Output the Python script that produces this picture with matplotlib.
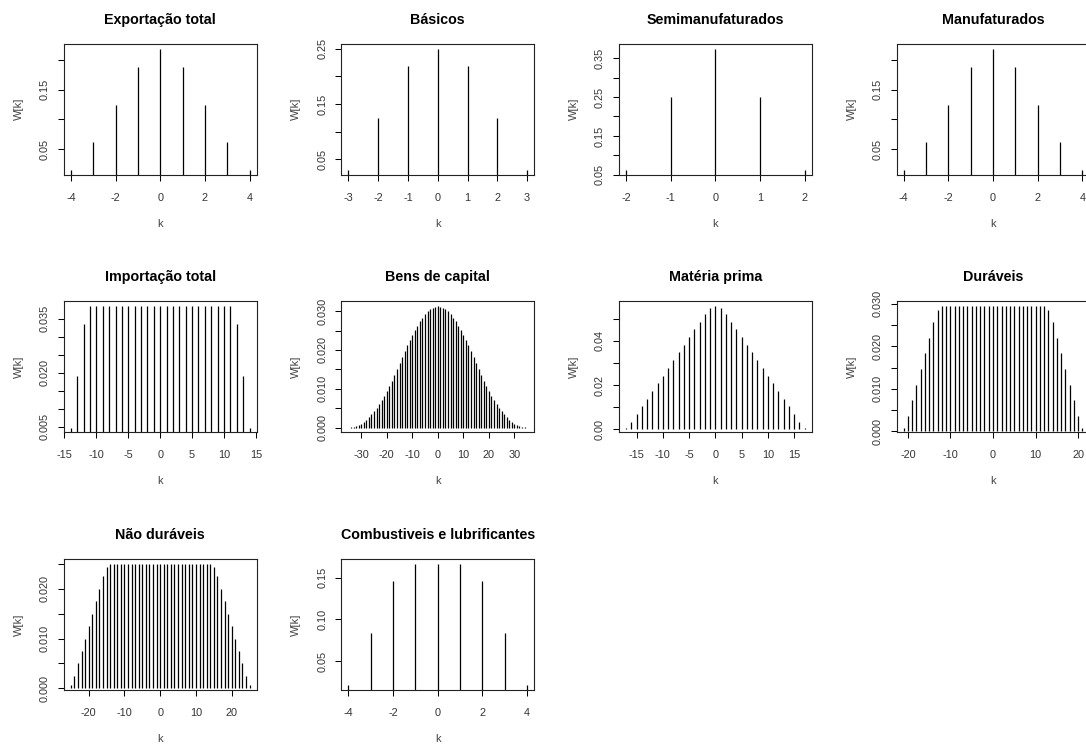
import numpy as np
import matplotlib.pyplot as plt

plt.rcParams['font.family'] = ['Liberation Sans', 'DejaVu Sans']

# pesos W[k] dos núcleos de suavização de cada série
k_exp = np.arange(-4, 5)
w_exp = [0.015625, 0.0625, 0.125, 0.1875, 0.21875, 0.1875, 0.125, 0.0625, 0.015625]

k_bas = np.arange(-3, 4)
w_bas = [0.03125, 0.125, 0.21875, 0.25, 0.21875, 0.125, 0.03125]

k_semi = np.arange(-2, 3)
w_semi = [0.0625, 0.25, 0.375, 0.25, 0.0625]

k_manuf = np.arange(-4, 5)
w_manuf = [0.015625, 0.0625, 0.125, 0.1875, 0.21875, 0.1875, 0.125, 0.0625, 0.015625]

k_imp = np.arange(-14, 15)
w_imp = [0.00481, 0.01923, 0.03365,
         0.03846, 0.03846, 0.03846, 0.03846, 0.03846, 0.03846, 0.03846, 0.03846,
         0.03846, 0.03846, 0.03846, 0.03846, 0.03846, 0.03846, 0.03846, 0.03846,
         0.03846, 0.03846, 0.03846, 0.03846, 0.03846, 0.03846, 0.03846,
         0.03365, 0.01923, 0.00481]

k_cap = np.arange(-35, 36)
w_cap = [0.000010, 0.000042, 0.000167, 0.000375, 0.000667, 0.001042, 0.001500,
         0.002042, 0.002667, 0.003375, 0.004167, 0.005042, 0.006000, 0.007042,
         0.008167, 0.009375, 0.010667, 0.012042, 0.013500, 0.015042, 0.016667,
         0.018292, 0.019833, 0.021292, 0.022667, 0.023958, 0.025167, 0.026292,
         0.027333, 0.028292, 0.029167, 0.029917, 0.030500, 0.030917, 0.031167,
         0.031250,
         0.031167, 0.030917, 0.030500, 0.029917, 0.029167, 0.028292, 0.027333,
         0.026292, 0.025167, 0.023958, 0.022667, 0.021292, 0.019833, 0.018292,
         0.016667, 0.015042, 0.013500, 0.012042, 0.010667, 0.009375, 0.008167,
         0.007042, 0.006000, 0.005042, 0.004167, 0.003375, 0.002667, 0.002042,
         0.001500, 0.001042, 0.000667, 0.000375, 0.000167, 0.000042, 0.000010]

k_mat = np.arange(-17, 18)
w_mat = [0.000868, 0.003472, 0.006944, 0.010417, 0.013889, 0.017361, 0.020833,
         0.024306, 0.027778, 0.031250, 0.034722, 0.038194, 0.041667, 0.045139,
         0.048611, 0.052083, 0.054688, 0.055556, 0.054688, 0.052083, 0.048611,
         0.045139, 0.041667, 0.038194, 0.034722, 0.031250, 0.027778, 0.024306,
         0.020833, 0.017361, 0.013889, 0.010417, 0.006944, 0.003472, 0.000868]

k_dur = np.arange(-21, 22)
w_dur = [0.000919, 0.003676, 0.007353, 0.011029, 0.014706, 0.018382, 0.022059,
         0.025735, 0.028493,
         0.029412, 0.029412, 0.029412, 0.029412, 0.029412, 0.029412, 0.029412,
         0.029412, 0.029412, 0.029412, 0.029412, 0.029412, 0.029412, 0.029412,
         0.029412, 0.029412, 0.029412, 0.029412, 0.029412, 0.029412, 0.029412,
         0.029412, 0.029412, 0.029412, 0.029412,
         0.028493, 0.025735, 0.022059, 0.018382, 0.014706, 0.011029, 0.007353,
         0.003676, 0.000919]

k_ndur = np.arange(-25, 26)
w_ndur = [0.000625, 0.0025, 0.005, 0.0075, 0.01, 0.0125, 0.015, 0.0175, 0.02,
          0.0225, 0.024375,
          0.025, 0.025, 0.025, 0.025, 0.025, 0.025, 0.025, 0.025, 0.025, 0.025,
          0.025, 0.025, 0.025, 0.025, 0.025, 0.025, 0.025, 0.025, 0.025, 0.025,
          0.025, 0.025, 0.025, 0.025, 0.025, 0.025, 0.025, 0.025, 0.025,
          0.024375, 0.0225, 0.02, 0.0175, 0.015, 0.0125, 0.01, 0.0075, 0.005,
          0.0025, 0.000625]

k_comb = np.arange(-4, 5)
w_comb = [0.020833, 0.083333, 0.145833, 0.166667, 0.166667, 0.166667,
          0.145833, 0.083333, 0.020833]

titles = ['Exportação total', 'Básicos', 'Semimanufaturados', 'Manufaturados',
          'Importação total', 'Bens de capital', 'Matéria prima', 'Duráveis',
          'Não duráveis', 'Combustiveis e lubrificantes']

# (k, W, marcas do eixo y, rótulos do eixo y, marcas do eixo x)
panels = [
    (k_exp, w_exp, [0.05, 0.10, 0.15, 0.20], ['0.05', '', '0.15', ''], [-4, -2, 0, 2, 4]),
    (k_bas, w_bas, [0.05, 0.10, 0.15, 0.20, 0.25], ['0.05', '', '0.15', '', '0.25'], [-3, -2, -1, 0, 1, 2, 3]),
    (k_semi, w_semi, [0.05, 0.10, 0.15, 0.20, 0.25, 0.30, 0.35],
     ['0.05', '', '0.15', '', '0.25', '', '0.35'], [-2, -1, 0, 1, 2]),
    (k_manuf, w_manuf, [0.05, 0.10, 0.15, 0.20], ['0.05', '', '0.15', ''], [-4, -2, 0, 2, 4]),
    (k_imp, w_imp, [0.005, 0.010, 0.015, 0.020, 0.025, 0.030, 0.035],
     ['0.005', '', '', '0.020', '', '', '0.035'], [-15, -10, -5, 0, 5, 10, 15]),
    (k_cap, w_cap, [0.0, 0.005, 0.010, 0.015, 0.020, 0.025, 0.030],
     ['0.000', '', '0.010', '', '0.020', '', '0.030'], [-30, -20, -10, 0, 10, 20, 30]),
    (k_mat, w_mat, [0.0, 0.01, 0.02, 0.03, 0.04, 0.05],
     ['0.00', '', '0.02', '', '0.04', ''], [-15, -10, -5, 0, 5, 10, 15]),
    (k_dur, w_dur, [0.0, 0.005, 0.010, 0.015, 0.020, 0.025, 0.030],
     ['0.000', '', '0.010', '', '0.020', '', '0.030'], [-20, -10, 0, 10, 20]),
    (k_ndur, w_ndur, [0.0, 0.005, 0.010, 0.015, 0.020, 0.025],
     ['0.000', '', '0.010', '', '0.020', ''], [-20, -10, 0, 10, 20]),
    (k_comb, w_comb, [0.05, 0.10, 0.15], ['0.05', '0.10', '0.15'], [-4, -2, 0, 2, 4]),
]

W, H = 1086, 747
fig = plt.figure(figsize=(W / 100, H / 100), dpi=100)

for i, (k, w, yt, yl, xt) in enumerate(panels):
    row, col = divmod(i, 4)
    left = 63.7 + 277.6 * col
    top = 43.7 + 257.7 * row
    ax = fig.add_axes([left / W, 1 - (top + 131) / H, 193 / W, 131 / H])

    ax.vlines(k, 0, w, color='black', lw=0.9)

    # limites com 4% de folga, como no R
    kmin, kmax = min(k), max(k)
    wmin, wmax = min(w), max(w)
    ax.set_xlim(kmin - 0.04 * (kmax - kmin), kmax + 0.04 * (kmax - kmin))
    ax.set_ylim(wmin - 0.04 * (wmax - wmin), wmax + 0.04 * (wmax - wmin))

    ax.set_xticks(xt)
    ax.set_xticklabels([str(v) for v in xt])
    ax.set_yticks(yt)
    ax.set_yticklabels(yl, rotation=90, va='center')
    ax.tick_params(direction='out', length=4.5, width=0.75, color='black',
                   labelsize=7.8, labelcolor='#333333')
    ax.tick_params(axis='x', pad=8.5)
    ax.tick_params(axis='y', pad=5.5)
    for s in ax.spines.values():
        s.set_linewidth(0.8)
        s.set_color('#222222')

    ax.set_title(titles[i], fontsize=10.3, fontweight='bold', pad=14.5)
    ax.set_xlabel('k', fontsize=8, color='#444444', labelpad=11.5)
    ax.set_ylabel('W[k]', fontsize=8, color='#444444', labelpad=11.5)

fig.savefig('out.png', dpi=100, facecolor='white')
